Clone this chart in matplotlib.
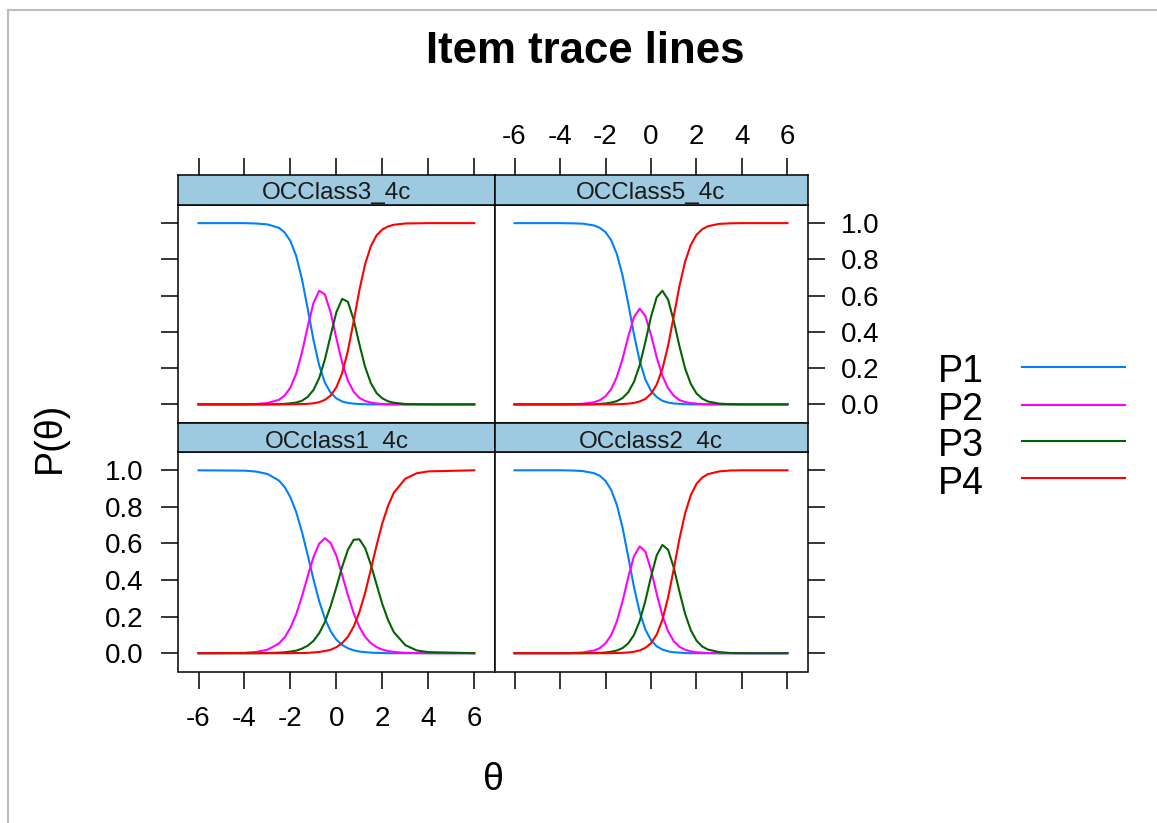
import matplotlib
matplotlib.use("Agg")
import matplotlib.pyplot as plt
from matplotlib.lines import Line2D
from matplotlib.ticker import FormatStrFormatter

plt.rcParams['font.family'] = ['Liberation Sans', 'DejaVu Sans']
plt.rcParams['axes.unicode_minus'] = False

W, H = 1157, 823

theta = [-6, -4, -3.5, -3, -2.5, -2.25, -2, -1.75, -1.5, -1.25, -1, -0.75, -0.5, -0.25,
         0, 0.25, 0.5, 0.75, 1, 1.25, 1.5, 1.75, 2, 2.25, 2.5, 3, 3.5, 4, 6]

cat_names = ['P1', 'P2', 'P3', 'P4']
cat_colors = ['#0080FF', '#FF00FF', '#006400', '#FF0000']

# OCClass3_4c (top left)
occ3_p1 = [1.000, 1.000, 0.998, 0.993, 0.974, 0.948, 0.901, 0.819, 0.692, 0.528, 0.357, 0.216, 0.120, 0.064,
           0.033, 0.016, 0.008, 0.004, 0.002, 0.001, 0, 0, 0, 0, 0, 0, 0, 0, 0]
occ3_p2 = [0, 0, 0.002, 0.007, 0.025, 0.049, 0.093, 0.170, 0.286, 0.428, 0.558, 0.627, 0.607, 0.506,
           0.364, 0.230, 0.131, 0.070, 0.036, 0.019, 0.010, 0.005, 0.002, 0.001, 0, 0, 0, 0, 0]
occ3_p3 = [0, 0, 0, 0, 0.001, 0.003, 0.006, 0.010, 0.020, 0.041, 0.079, 0.145, 0.248, 0.381,
           0.509, 0.582, 0.566, 0.468, 0.332, 0.206, 0.117, 0.062, 0.033, 0.017, 0.009, 0.002, 0.001, 0, 0]
occ3_p4 = [0, 0, 0, 0, 0, 0, 0, 0.001, 0.002, 0.003, 0.006, 0.012, 0.025, 0.049,
           0.094, 0.172, 0.295, 0.458, 0.630, 0.774, 0.873, 0.933, 0.965, 0.982, 0.991, 0.998, 0.999, 1, 1]

# OCClass5_4c (top right)
occ5_p1 = [1, 1.000, 0.999, 0.997, 0.987, 0.974, 0.950, 0.906, 0.829, 0.711, 0.555, 0.387, 0.241, 0.138,
           0.075, 0.040, 0.020, 0.010, 0.005, 0.003, 0.001, 0, 0, 0, 0, 0, 0, 0, 0]
occ5_p2 = [0, 0, 0.001, 0.003, 0.012, 0.023, 0.045, 0.084, 0.152, 0.252, 0.374, 0.481, 0.528, 0.489,
           0.384, 0.260, 0.158, 0.089, 0.048, 0.024, 0.013, 0.007, 0.004, 0.002, 0.001, 0, 0, 0, 0]
occ5_p3 = [0, 0, 0, 0, 0.001, 0.003, 0.005, 0.010, 0.018, 0.035, 0.067, 0.124, 0.215, 0.343,
           0.483, 0.591, 0.627, 0.578, 0.461, 0.321, 0.198, 0.113, 0.060, 0.032, 0.016, 0.004, 0.001, 0, 0]
occ5_p4 = [0, 0, 0, 0, 0, 0, 0, 0, 0.001, 0.002, 0.004, 0.008, 0.016, 0.030,
           0.058, 0.109, 0.195, 0.323, 0.486, 0.652, 0.788, 0.880, 0.936, 0.966, 0.983, 0.996, 0.999, 1, 1]

# OCclass1_4c (bottom left)
occ1_p1 = [1.000, 0.998, 0.993, 0.980, 0.944, 0.908, 0.852, 0.772, 0.664, 0.537, 0.405, 0.285, 0.189, 0.120,
           0.074, 0.045, 0.027, 0.016, 0.009, 0.006, 0.003, 0.002, 0.001, 0, 0, 0, 0, 0, 0]
occ1_p2 = [0, 0.002, 0.007, 0.019, 0.053, 0.087, 0.139, 0.213, 0.310, 0.420, 0.524, 0.599, 0.629, 0.603,
           0.532, 0.428, 0.318, 0.219, 0.144, 0.089, 0.055, 0.033, 0.020, 0.012, 0.007, 0.002, 0.001, 0, 0]
occ1_p3 = [0, 0, 0, 0.001, 0.003, 0.005, 0.009, 0.014, 0.025, 0.041, 0.067, 0.109, 0.170, 0.258,
           0.361, 0.472, 0.565, 0.620, 0.623, 0.575, 0.484, 0.375, 0.268, 0.181, 0.115, 0.044, 0.015, 0.006, 0]
occ1_p4 = [0, 0, 0, 0, 0, 0, 0, 0.001, 0.001, 0.002, 0.004, 0.007, 0.012, 0.019,
           0.033, 0.055, 0.090, 0.145, 0.224, 0.330, 0.458, 0.590, 0.711, 0.807, 0.878, 0.954, 0.984, 0.994, 1.000]

# OCclass2_4c (bottom right)
occ2_p1 = [1, 1.000, 0.999, 0.996, 0.984, 0.970, 0.942, 0.893, 0.810, 0.686, 0.527, 0.363, 0.226, 0.130,
           0.071, 0.038, 0.020, 0.010, 0.005, 0.003, 0.001, 0, 0, 0, 0, 0, 0, 0, 0]
occ2_p2 = [0, 0, 0.001, 0.004, 0.015, 0.028, 0.054, 0.099, 0.174, 0.284, 0.415, 0.530, 0.584, 0.556,
           0.456, 0.325, 0.206, 0.120, 0.066, 0.035, 0.019, 0.010, 0.005, 0.003, 0.001, 0, 0, 0, 0]
occ2_p3 = [0, 0, 0, 0, 0.001, 0.002, 0.004, 0.008, 0.015, 0.028, 0.054, 0.099, 0.175, 0.285,
           0.418, 0.535, 0.592, 0.566, 0.469, 0.337, 0.215, 0.126, 0.069, 0.037, 0.020, 0.006, 0.001, 0, 0]
occ2_p4 = [0, 0, 0, 0, 0, 0, 0, 0, 0.001, 0.002, 0.004, 0.008, 0.015, 0.029,
           0.055, 0.102, 0.182, 0.304, 0.460, 0.625, 0.765, 0.864, 0.926, 0.960, 0.979, 0.994, 0.999, 1, 1]

x_ticks = [-6, -4, -2, 0, 2, 4, 6]
y_ticks = [0.0, 0.2, 0.4, 0.6, 0.8, 1.0]

# (name, curves, column, row)
panels = [
    ('OCClass3_4c', [occ3_p1, occ3_p2, occ3_p3, occ3_p4], 0, 0),
    ('OCClass5_4c', [occ5_p1, occ5_p2, occ5_p3, occ5_p4], 1, 0),
    ('OCclass1_4c', [occ1_p1, occ1_p2, occ1_p3, occ1_p4], 0, 1),
    ('OCclass2_4c', [occ2_p1, occ2_p2, occ2_p3, occ2_p4], 1, 1),
]

col_x = [(178.3, 494.5), (494.5, 807.5)]
row_strip = [(175.0, 205.0), (422.5, 452.0)]
row_plot = [(205.0, 422.5), (452.0, 671.5)]
strip_base = [6.0, 4.0]   # px from strip bottom to text baseline


def px_box(x0, y0, x1, y1):
    return [x0 / W, 1 - y1 / H, (x1 - x0) / W, (y1 - y0) / H]


fig = plt.figure(figsize=(W / 100, H / 100), dpi=100)
fig.patch.set_facecolor('white')

tick_kw = dict(direction='out', length=12, width=1.1, labelsize=20, color='black')

for name, curves, c, r in panels:
    x0, x1 = col_x[c]
    ax = fig.add_axes(px_box(x0, row_plot[r][0], x1, row_plot[r][1]))
    for vals, col in zip(curves, cat_colors):
        ax.plot(theta, vals, color=col, lw=1.5, solid_joinstyle='round')
    ax.set_xlim(-6.88, 6.88)
    ax.set_ylim(-0.1, 1.1)
    ax.set_xticks(x_ticks)
    ax.set_yticks(y_ticks)
    ax.yaxis.set_major_formatter(FormatStrFormatter('%.1f'))
    for sp in ax.spines.values():
        sp.set_linewidth(1.1)
    ax.tick_params(axis='both', **tick_kw)
    ax.tick_params(top=False, labeltop=False,
                   bottom=(r == 1), labelbottom=(r == 1 and c == 0),
                   left=(c == 0), labelleft=(c == 0 and r == 1),
                   right=(c == 1), labelright=(c == 1 and r == 0))
    ax.tick_params(axis='x', pad=13)
    ax.tick_params(axis='y', pad=13 if c == 0 else 12)

    sx = fig.add_axes(px_box(x0, row_strip[r][0], x1, row_strip[r][1]))
    sx.set_facecolor('#9ECAE1')
    sx.set_xlim(-6.88, 6.88)
    sx.set_ylim(0, 1)
    sx.set_yticks([])
    sx.set_xticks(x_ticks)
    for sp in sx.spines.values():
        sp.set_linewidth(1.1)
    sx.tick_params(axis='x', **tick_kw)
    sx.tick_params(axis='x', bottom=False, labelbottom=False,
                   top=(r == 0), labeltop=(r == 0 and c == 1), pad=6)
    sx.text(0.5, strip_base[r] / (row_strip[r][1] - row_strip[r][0]), name, transform=sx.transAxes,
            ha='center', va='baseline', fontsize=17.5, color='#1a1a1a', clip_on=True)

fig.text(585 / W, 1 - 63.3 / H, 'Item trace lines', ha='center', va='baseline',
         fontsize=31.5, fontweight='bold')
fig.text(50 / W, 1 - 437 / H, 'P(θ)', rotation=90, ha='center', va='center', fontsize=27)
fig.text(493 / W, 1 - 780.5 / H, 'θ', ha='center', va='center', fontsize=27)

# legend on the right
leg_base = [381.5, 419.5, 456.0, 493.5]
leg_line = [366.7, 405.0, 440.7, 478.3]
for lab, col, yb, yl in zip(cat_names, cat_colors, leg_base, leg_line):
    fig.text(938 / W, 1 - yb / H, lab, ha='left', va='baseline', fontsize=27)
    fig.add_artist(Line2D([1022 / W, 1125 / W], [1 - yl / H, 1 - yl / H],
                          color=col, lw=1.5, transform=fig.transFigure))

# window frame edges seen in the screenshot
fig.add_artist(Line2D([8 / W, 8 / W], [0, 1 - 10 / H], color='#BDBDBD', lw=1.5,
                      transform=fig.transFigure))
fig.add_artist(Line2D([8 / W, 1], [1 - 10 / H, 1 - 10 / H], color='#BDBDBD', lw=1.5,
                      transform=fig.transFigure))

fig.savefig('out.png', dpi=100)
